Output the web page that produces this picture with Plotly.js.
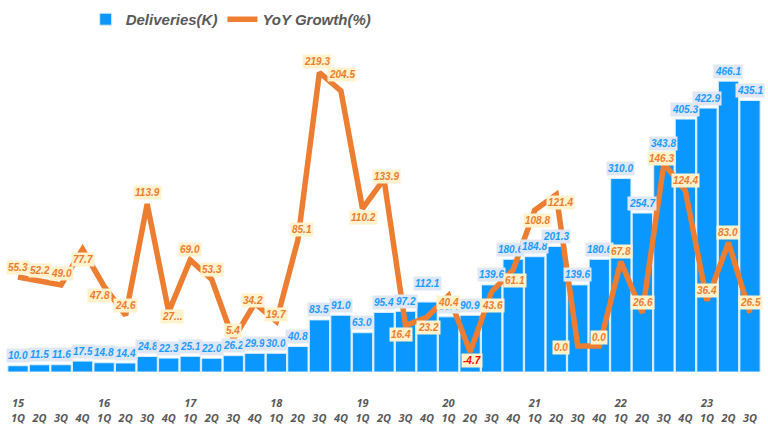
<!DOCTYPE html>
<html><head><meta charset="utf-8">
<script src="https://cdn.plot.ly/plotly-3.0.1.min.js"></script>
<style>html,body{margin:0;padding:0;background:#fff}#chart{width:768px;height:434px}</style>
</head><body><div id="chart"></div>
<script>
const categories = ['15 1Q','15 2Q','15 3Q','15 4Q','16 1Q','16 2Q','16 3Q','16 4Q','17 1Q','17 2Q','17 3Q','17 4Q',
  '18 1Q','18 2Q','18 3Q','18 4Q','19 1Q','19 2Q','19 3Q','19 4Q','20 1Q','20 2Q','20 3Q','20 4Q',
  '21 1Q','21 2Q','21 3Q','21 4Q','22 1Q','22 2Q','22 3Q','22 4Q','23 1Q','23 2Q','23 3Q'];
const deliveries = [10.0,11.5,11.6,17.5,14.8,14.4,24.8,22.3,25.1,22.0,26.2,29.9,30.0,40.8,83.5,91.0,
  63.0,95.4,97.2,112.1,88.4,90.9,139.6,180.6,184.8,201.3,139.6,180.6,310.0,254.7,343.8,405.3,422.9,466.1,435.1];
const growth = [55.3,52.2,49.0,77.7,47.8,24.6,113.9,27.4,69.0,53.3,5.4,34.2,19.7,85.1,219.3,204.5,
  110.2,133.9,16.4,23.2,40.4,-4.7,43.6,61.1,108.8,121.4,0.0,0.0,67.8,26.6,146.3,124.4,36.4,83.0,26.5];
const growthShown = growth.map(v => v.toFixed(1));
growthShown[7] = '27...';

// label placement (pixels): [xshift, yshift]
const growthLabelShift = [[0,10],[0,10],[0,11],[0,-10],[-5,-9],[0,10],[0,11],[3,-5],[0,10],[0,10],[0,9],[-2,3],
  [0,7],[4,10],[-2,11],[1,16],[1,-9],[2,3],[-5,-9],[1,-10],[0,-7],[2,-9],[1,-14],[2,-11],[3,-10],[4,-8],
  [-17,-1],[0,9],[0,10],[0,10],[-2,5],[0,10],[0,10],[0,10],[0,10]];
const barLabelShift = deliveries.map(() => [0,10]);
barLabelShift[19] = [0,19]; barLabelShift[30] = [0,14]; barLabelShift[23] = [-3,10];

const tickText = categories.map(c => { const [y,q] = c.split(' '); return q === '1Q' ? y + '<br>' + q : '\u00a0<br>' + q; });

const labelFont = {family:'Liberation Sans, Arial, sans-serif', size:10, weight:'bold', style:'italic'};
const annotations = [];
deliveries.forEach((v,i) => annotations.push({x:categories[i], y:v, xref:'x', yref:'y', text:v.toFixed(1),
  showarrow:false, xshift:barLabelShift[i][0], yshift:barLabelShift[i][1], bgcolor:'#dfe7f5', borderpad:1,
  font:Object.assign({}, labelFont, {color:'#1a9bff'})}));
growth.forEach((v,i) => annotations.push({x:categories[i], y:v, xref:'x', yref:'y2', text:growthShown[i],
  showarrow:false, xshift:growthLabelShift[i][0], yshift:growthLabelShift[i][1], bgcolor:'#fff2cc', borderpad:1,
  font:Object.assign({}, labelFont, {color: v < 0 ? '#ff0000' : '#ed7d31'})}));

const traces = [
  {type:'bar', name:'Deliveries(K)', x:categories, y:deliveries, yaxis:'y',
   marker:{color:'#0a97ff', line:{color:'#d8ecff', width:1}}, hoverinfo:'skip'},
  {type:'scatter', mode:'lines', name:'YoY Growth(%)', x:categories, y:growth, yaxis:'y2',
   line:{color:'#ed7d31', width:5.5}, hoverinfo:'skip'}
];
const layout = {
  width:768, height:434, margin:{l:6, r:3, t:60, b:62},
  paper_bgcolor:'#ffffff', plot_bgcolor:'#ffffff', bargap:0.06,
  showlegend:true,
  legend:{orientation:'h', x:0.105, xanchor:'left', y:1.13, yanchor:'middle', itemwidth:30,
    font:{family:'Liberation Sans, Arial, sans-serif', size:15, weight:'bold', style:'italic', color:'#595959'}},
  xaxis:{type:'category', tickmode:'array', tickvals:categories, ticktext:tickText, ticks:'outside', ticklen:21,
    tickcolor:'rgba(0,0,0,0)', showgrid:false, zeroline:false, showline:false,
    tickfont:{family:'Open Sans, sans-serif', size:11, weight:'bold', style:'italic', color:'#595959'}},
  yaxis:{range:[0,500], visible:false, showgrid:false, zeroline:false},
  yaxis2:{range:[-20.85,229.35], overlaying:'y', visible:false, showgrid:false, zeroline:false},
  annotations:annotations
};
Plotly.newPlot('chart', traces, layout, {displayModeBar:false, staticPlot:true});
</script></body></html>
